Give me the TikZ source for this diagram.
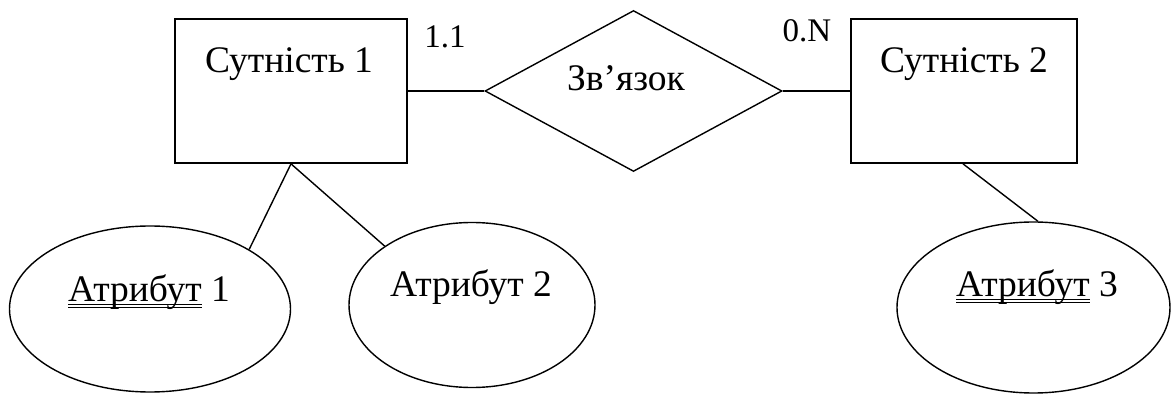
\documentclass[tikz,border=0pt]{standalone}
\usepackage{fontspec}
\setmainfont{Liberation Serif}
\usetikzlibrary{shapes.geometric}
\newcommand{\dblul}[1]{\setbox0\hbox{#1}\rlap{\rule[-3pt]{\wd0}{0.9pt}}\rlap{\rule[-5.5pt]{\wd0}{0.9pt}}\box0\relax}
\begin{document}
\begin{tikzpicture}[x=1pt,y=-1pt,
  every path/.style={line width=1.6pt},
  lbl/.style={font=\fontsize{37.5}{40}\selectfont, inner sep=0pt, anchor=base},
  card/.style={font=\fontsize{33}{36}\selectfont, inner sep=0pt, anchor=base},
  entity/.style={draw, rectangle, inner sep=0pt, line width=1.7pt, minimum width=232pt, minimum height=144pt},
  rel/.style={draw, diamond, inner sep=0pt, line width=1.4pt, minimum width=297pt, minimum height=161pt},
  attr/.style={draw, ellipse, inner sep=0pt, line width=1.4pt},
  conn/.style={line width=1.4pt}]
\useasboundingbox (0,0) rectangle (1171,395);
\node[entity] (e1) at (291,91) {};
\node[entity, minimum width=226pt] (e2) at (964,91) {};
\node[rel] (r) at (633.5,91) {};
\node[attr, minimum width=281pt, minimum height=166pt] (a1) at (150,309) {};
\node[attr, minimum width=246pt, minimum height=165pt] (a2) at (472,305) {};
\node[attr, minimum width=273pt, minimum height=171pt] (a3) at (1033.5,307.5) {};
\node[lbl] (t1) at (289,73) {Сутність 1};
\node[lbl] (t2) at (964,73) {Сутність 2};
\node[lbl] (tr) at (626,91) {Зв’язок};
\node[card] (c1) at (445,48) {1.1};
\node[card] (c2) at (807,42) {0.N};
\node[lbl] (ta1) at (149,302) {\dblul{Атрибут} 1};
\node[lbl] (ta2) at (471,297) {Атрибут 2};
\node[lbl] (ta3) at (1037,297) {\dblul{Атрибут} 3};
\draw[conn] (e1.east) -- (r.west);
\draw[conn] (r.east) -- (e2.west);
\draw[conn] (e1.south) -- (a1.31);
\draw[conn] (e1.south) -- (a2.146);
\draw[conn] ([xshift=-1pt]e2.south) -- (a3.87);
\end{tikzpicture}
\end{document}
